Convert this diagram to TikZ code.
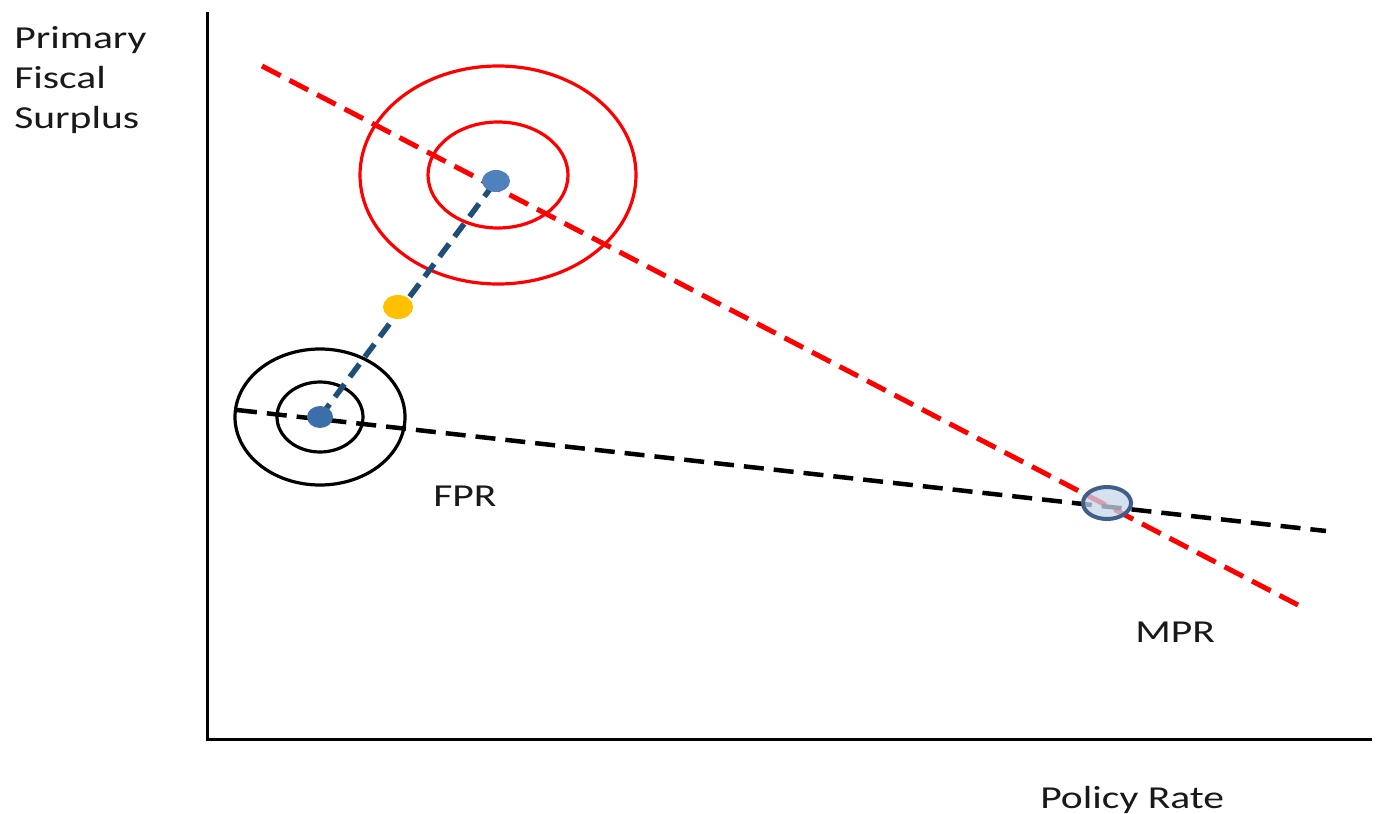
\documentclass[tikz,border=0pt]{standalone}
\usepackage{fontspec}
\setmainfont{Carlito}
\begin{document}
\begin{tikzpicture}[x=1pt,y=-1pt,
  lbl/.style={font=\fontsize{32}{40}\selectfont, xscale=1.3, inner sep=0pt, anchor=base west, text=black!90},
  axis/.style={line width=3pt, black},
  reddash/.style={red, line width=5pt, dash pattern=on 21pt off 10pt},
  blkdash/.style={black, line width=4.5pt, dash pattern=on 20pt off 10pt},
  bluedash/.style={color={rgb,255:red,31;green,78;blue,121}, line width=5.5pt, dash pattern=on 16pt off 9pt},
  ring/.style={line width=3.2pt}
]
\useasboundingbox (0,0) rectangle (1377,814);
% axes
\coordinate (ytop) at (207,12);
\coordinate (orig) at (207,739);
\coordinate (xend) at (1372,739);
\draw[axis] (ytop) -- (orig) -- (xend);
% lines
\coordinate (r1) at (262,66);
\coordinate (r2) at (1298,605);
\coordinate (b1) at (237,410);
\coordinate (b2) at (1326,531);
\coordinate (fpr) at (320,417);
\coordinate (top) at (496,181);
% rings
\draw[red, ring] (498,175) ellipse [x radius=138, y radius=109];
\draw[red, ring] (498,175) ellipse [x radius=70, y radius=53];
\draw[black, ring] (320,417) ellipse [x radius=85, y radius=68];
\draw[black, ring] (320,417) ellipse [x radius=43, y radius=35];
\draw[reddash] (r1) -- (r2);
\draw[blkdash] (b1) -- (b2);
\draw[bluedash] (fpr) -- (top);
% dots
\fill[color={rgb,255:red,79;green,129;blue,189}] (top) ellipse [x radius=14, y radius=11];
\fill[color={rgb,255:red,60;green,110;blue,170}] (fpr) ellipse [x radius=13, y radius=11];
\fill[color={rgb,255:red,255;green,192;blue,0}] (398,307) ellipse [x radius=15, y radius=12];
% intersection marker
\filldraw[fill={rgb,255:red,200;green,215;blue,235}, fill opacity=0.75, draw={rgb,255:red,63;green,95;blue,138}, line width=4pt] (1107,503) ellipse [x radius=24, y radius=16];
% labels
\node[lbl] (l1) at (14,48) {Primary};
\node[lbl] (l2) at (14,88) {Fiscal};
\node[lbl] (l3) at (14,128) {Surplus};
\node[lbl] (lfpr) at (433,506) {FPR};
\node[lbl] (lmpr) at (1135,642) {MPR};
\node[lbl] (lpr) at (1040,808) {Policy Rate};
\end{tikzpicture}
\end{document}
